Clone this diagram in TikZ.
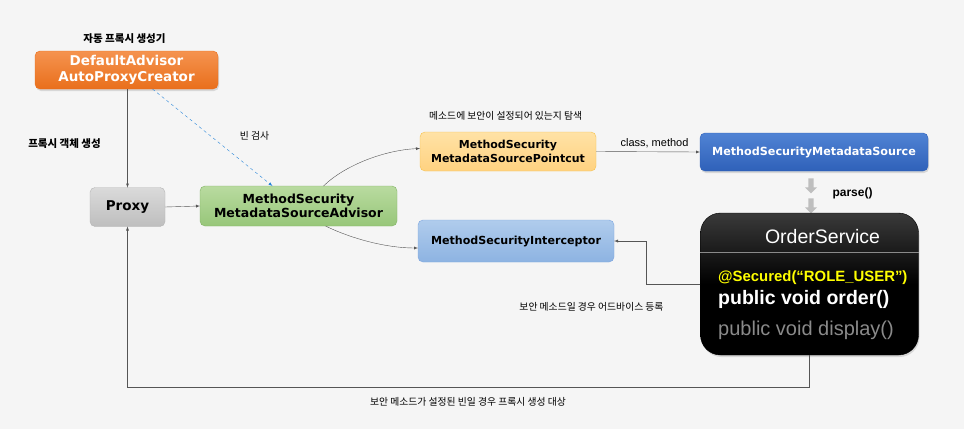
\documentclass[tikz,border=0pt]{standalone}
\usepackage{fontspec}
\setmainfont{DejaVu Sans}
\newfontfamily\krfont{Noto Sans CJK KR}
\newfontfamily\helv{Liberation Sans}
\usetikzlibrary{shapes,arrows,positioning,calc,shadows}

\definecolor{bgcolor}{HTML}{F5F5F5}
\definecolor{linegray}{HTML}{555555}
\definecolor{orangetop}{HTML}{F5934F}
\definecolor{orangebot}{HTML}{E96F1C}
\definecolor{graytop}{HTML}{DADADA}
\definecolor{graybot}{HTML}{BEBEBE}
\definecolor{grayline}{HTML}{B5B5B5}
\definecolor{greentop}{HTML}{B9DBA0}
\definecolor{greenbot}{HTML}{97C679}
\definecolor{greenline}{HTML}{82B366}
\definecolor{yellowtop}{HTML}{FFE2A6}
\definecolor{yellowbot}{HTML}{FFD280}
\definecolor{yellowline}{HTML}{F5C24E}
\definecolor{bluetop}{HTML}{5083D4}
\definecolor{bluebot}{HTML}{2F61B9}
\definecolor{skytop}{HTML}{B0CCEC}
\definecolor{skybot}{HTML}{8DB3E2}
\definecolor{skyline}{HTML}{7EA6E0}
\definecolor{dashblue}{HTML}{2684D9}
\definecolor{secyellow}{HTML}{FFFF00}
\definecolor{dimtext}{HTML}{8A8A8A}
\definecolor{darktop}{HTML}{3A3A3A}

\begin{document}
\begin{tikzpicture}[x=1pt,y=-1pt]
\tikzstyle{box}=[rounded corners=5pt,align=center,inner sep=0pt,outer sep=0pt]
\tikzstyle{lbl}=[font=\krfont\fontsize{9.8}{11}\selectfont,inner sep=0pt]
\tikzstyle{title}=[font=\krfont\bfseries\fontsize{10.5}{12}\selectfont,inner sep=0pt]
\tikzstyle{conn}=[draw=linegray,-latex]
\tikzstyle{shade}=[drop shadow={shadow xshift=1pt,shadow yshift=-2pt,opacity=0.25}]
\tikzstyle{parsearrow}=[single arrow,draw=none,fill=graybot,rotate=-90,minimum height=15pt,minimum width=12pt,single arrow head extend=2.5pt,single arrow head indent=0pt,inner sep=1.8pt]

\fill[bgcolor] (0,0) rectangle (964,429);
\useasboundingbox (0,0) rectangle (964,429);

% creator and proxy
\node (creatortitle) [title] at (124.5,39) {자동 프록시 생성기};
\node (creator) [box,shade,top color=orangetop,bottom color=orangebot,draw=orangebot,text=white,minimum width=183pt,minimum height=38pt,font=\bfseries\fontsize{13.5}{16}\selectfont] at (126.5,70) {DefaultAdvisor\\AutoProxyCreator};
\node (proxytitle) [title] at (64.5,144) {프록시 객체 생성};
\node (proxy) [box,top color=graytop,bottom color=graybot,draw=grayline,minimum width=75pt,minimum height=39pt,font=\bfseries\fontsize{13.5}{16}\selectfont] at (127.5,207) {Proxy};

% advisor
\node (advisor) [box,top color=greentop,bottom color=greenbot,draw=greenline,minimum width=197pt,minimum height=40pt,font=\bfseries\fontsize{12.5}{14.5}\selectfont] at (298.5,206) {MethodSecurity\\MetadataSourceAdvisor};

% pointcut, source, interceptor
\node (pointcut) [box,top color=yellowtop,bottom color=yellowbot,draw=yellowline,minimum width=176pt,minimum height=39pt,font=\bfseries\fontsize{11}{14}\selectfont] at (508,151.5) {MethodSecurity\\MetadataSourcePointcut};
\node (pointcuttitle) [lbl,anchor=west] at (429,116) {메소드에 보안이 설정되어 있는지 탐색};
\node (source) [box,shade,top color=bluetop,bottom color=bluebot,draw=bluebot,text=white,minimum width=228pt,minimum height=38pt,font=\bfseries\fontsize{11.2}{13}\selectfont] at (814,152) {MethodSecurityMetadataSource};
\node (interceptor) [box,top color=skytop,bottom color=skybot,draw=skyline,minimum width=196pt,minimum height=42pt,font=\bfseries\fontsize{11.1}{13}\selectfont] at (516,241) {MethodSecurityInterceptor};

% parse arrows
\node (parse1) [parsearrow] at (811,184.5) {};
\node (parse2) [parsearrow] at (811,204.5) {};
\node (parse) [font=\helv\bfseries\fontsize{12}{14}\selectfont,inner sep=0pt] at (852.5,193) {parse()};

% order service
\node (order) [rounded corners=20pt,shade,top color=darktop,bottom color=black,middle color=black,draw=black,minimum width=218pt,minimum height=142pt,inner sep=0pt] at (809.5,284) {};
\draw[dimtext,line width=0.6pt] (order.west |- 0,252) -- (order.east |- 0,252);
\node (ordertitle) [text=white,font=\helv\fontsize{19.5}{22}\selectfont,inner sep=0pt] at (822.5,237) {OrderService};
\node (secured) [anchor=west,text=secyellow,font=\helv\bfseries\fontsize{14.9}{17}\selectfont,inner sep=0pt] at (718,278) {@Secured(“ROLE\_USER”)};
\node (ordermethod) [anchor=west,text=white,font=\helv\bfseries\fontsize{19.5}{22}\selectfont,inner sep=0pt] at (718,299) {public void order()};
\node (displaymethod) [anchor=west,text=dimtext,font=\helv\fontsize{20}{23}\selectfont,inner sep=0pt] at (718,330) {public void display()};

% connectors
\draw[conn] (proxy.north |- creator.south) -- (proxy.north);
\draw[conn,draw=dashblue,dashed] ($(creator.south)+(26,0)$) -- node[lbl,xshift=42pt,yshift=2pt] {빈 검사} ($(advisor.north)+(-26,0)$);
\draw[conn] (proxy.east) -- (advisor.west);
\draw[conn] ($(advisor.north)+(25,0)$) .. controls (345,165) and (385,150) .. ($(pointcut.west)+(0,-3)$);
\draw[conn] ($(advisor.south)+(27,0)$) .. controls (350,238) and (385,248) .. ($(interceptor.west)+(0,7)$);
\draw[conn] (pointcut.east) -- (source.west);
\node (classmethod) [font=\helv\fontsize{11}{13}\selectfont,inner sep=0pt] at (654.5,143) {class, method};
\draw[conn] (order.west) -- ++(-54,0) |- (interceptor.east);
\node (advicelabel) [lbl] at (591.5,307) {보안 메소드일 경우 어드바이스 등록};
\draw[conn] (order.south) -- ++(0,32) -| (proxy.south);
\node (targetlabel) [lbl] at (468,402) {보안 메소드가 설정된 빈일 경우 프록시 생성 대상};
\end{tikzpicture}
\end{document}
